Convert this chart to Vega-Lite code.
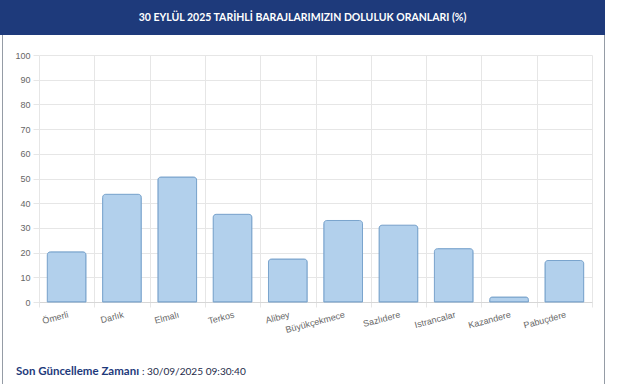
{
  "$schema": "https://vega.github.io/schema/vega-lite/v6.json",
  "padding": 0,
  "background": "white",
  "datasets": {
    "barajlar": [
      {"baraj": "Ömerli", "doluluk": 20.3},
      {"baraj": "Darlık", "doluluk": 43.6},
      {"baraj": "Elmalı", "doluluk": 50.6},
      {"baraj": "Terkos", "doluluk": 35.5},
      {"baraj": "Alibey", "doluluk": 17.4},
      {"baraj": "Büyükçekmece", "doluluk": 33.0},
      {"baraj": "Sazlıdere", "doluluk": 31.1},
      {"baraj": "Istrancalar", "doluluk": 21.6},
      {"baraj": "Kazandere", "doluluk": 2.0},
      {"baraj": "Pabuçdere", "doluluk": 16.8}
    ],
    "meta": [
      {"baslik": "30 EYLÜL 2025 TARİHLİ BARAJLARIMIZIN DOLULUK ORANLARI (%)", "etiket": "Son Güncelleme Zamanı", "zaman": ": 30/09/2025 09:30:40"}
    ],
    "bos": [{"k": ""}]
  },
  "concat": [
    {
      "width": 605,
      "height": 35,
      "view": {"fill": "#1e3a7b", "stroke": null},
      "data": {"name": "meta"},
      "mark": {"type": "text", "color": "white", "font": "Lato", "fontWeight": "bold", "fontSize": 10.5, "align": "center", "baseline": "middle"},
      "encoding": {"text": {"field": "baslik"}}
    },
    {
      "hconcat": [
        {
          "width": 2, "height": 360,
          "view": {"stroke": null, "fill": null},
          "data": {"name": "bos"},
          "mark": {"type": "rect", "fill": "white"},
          "encoding": {}
        },
        {
          "width": 1, "height": 360,
          "view": {"stroke": null},
          "data": {"name": "bos"},
          "mark": {"type": "rect", "fill": "#959ca6"},
          "encoding": {}
        },
        {
          "vconcat": [
            {
              "width": 10, "height": 7.5,
              "view": {"stroke": null, "fill": null},
              "data": {"name": "bos"},
              "mark": {"type": "rect", "fill": "white"},
              "encoding": {}
            },
            {
              "width": 553,
              "height": 247,
              "view": {"stroke": null},
              "data": {"name": "barajlar"},
              "mark": {"type": "bar", "width": {"band": 0.7}, "fill": "#b2d0ec", "stroke": "#7aa4cd", "strokeWidth": 1, "cornerRadiusTopLeft": 3, "cornerRadiusTopRight": 3},
              "encoding": {
                "x": {
                  "field": "baraj", "type": "nominal", "sort": null,
                  "scale": {"paddingInner": 0, "paddingOuter": 0},
                  "axis": {"title": null, "tickBand": "extent", "grid": true, "gridColor": "#e6e6e6", "tickColor": "#e6e6e6", "tickSize": 5, "domainColor": "#d6d6d6", "labelAngle": -15, "labelAlign": "right", "labelBaseline": "top", "labelPadding": 3, "labelFont": "Liberation Sans", "labelFontSize": 9, "labelColor": "#666666"}
                },
                "y": {
                  "field": "doluluk", "type": "quantitative",
                  "scale": {"domain": [0, 100], "nice": false},
                  "axis": {"title": null, "values": [0, 10, 20, 30, 40, 50, 60, 70, 80, 90, 100], "grid": true, "gridColor": "#e6e6e6", "tickColor": "#e6e6e6", "tickSize": 6, "domain": false, "labelPadding": 3, "labelFont": "Liberation Sans", "labelFontSize": 9, "labelColor": "#666666", "minExtent": 36}
                }
              }
            },
            {
              "width": 565,
              "height": 58,
              "view": {"stroke": null},
              "data": {"name": "meta"},
              "layer": [
                {
                  "mark": {"type": "text", "font": "Lato", "fontWeight": "bold", "fontSize": 11.5, "color": "#1e3a7b", "align": "left", "baseline": "middle", "dx": -23},
                  "encoding": {"x": {"datum": 0, "type": "quantitative", "scale": {"domain": [0, 1]}, "axis": null}, "text": {"field": "etiket"}}
                },
                {
                  "mark": {"type": "text", "font": "Lato", "fontSize": 10.1, "color": "#1e2a4a", "align": "left", "baseline": "middle", "dx": 103},
                  "encoding": {"x": {"datum": 0, "type": "quantitative", "scale": {"domain": [0, 1]}, "axis": null}, "text": {"field": "zaman"}}
                }
              ]
            }
          ],
          "spacing": 8
        },
        {
          "width": 1, "height": 360,
          "view": {"stroke": null},
          "data": {"name": "bos"},
          "mark": {"type": "rect", "fill": "#959ca6"},
          "encoding": {}
        }
      ],
      "spacing": 0
    }
  ],
  "columns": 1,
  "spacing": 0,
  "bounds": "full"
}
